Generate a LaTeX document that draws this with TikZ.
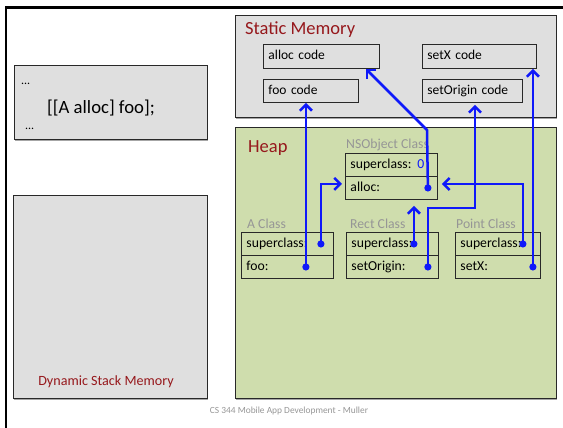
\documentclass[tikz,border=0pt]{standalone}
\usepackage{fontspec}
\setmainfont{Carlito}
\usetikzlibrary{arrows.meta,calc,shadows}
\definecolor{boxgray}{RGB}{223,223,223}
\definecolor{heapgreen}{RGB}{207,221,173}
\definecolor{titlered}{RGB}{150,24,28}
\definecolor{labelgray}{RGB}{150,150,150}
\definecolor{edgedark}{RGB}{40,40,40}
\definecolor{ptrblue}{RGB}{15,25,250}
\begin{document}
\begin{tikzpicture}[x=1pt,y=-1pt,
  region/.style={draw=edgedark, line width=1.2pt, anchor=north west, inner sep=0pt,
    drop shadow={shadow xshift=0.6pt,shadow yshift=-1.2pt,fill=black,opacity=0.35}},
  cell/.style={draw=edgedark, line width=0.9pt, fill=heapgreen, anchor=north west,
    minimum height=23pt, inner xsep=5pt, inner ysep=0pt, align=left,
    text height=9.5pt, text depth=3pt, font=\fontsize{13.7}{15}\selectfont},
  codebox/.style={draw=edgedark, line width=0.9pt, fill=boxgray, anchor=north west,
    minimum height=24pt, inner xsep=5pt, inner ysep=0pt, align=left,
    text height=9.5pt, text depth=3pt, font=\fontsize{13.5}{15}\selectfont},
  title/.style={anchor=west, inner sep=0pt, text=titlered, font=\fontsize{18.5}{21}\selectfont},
  clslabel/.style={anchor=west, inner sep=0pt, text=labelgray, font=\fontsize{13.7}{15}\selectfont},
  ptr/.style={draw=ptrblue, line width=2.5pt, -{Straight Barb[length=6pt,width=12pt]}},
  dot/.style={fill=ptrblue}
]
\useasboundingbox (0,0) rectangle (563,428);
% frame
\draw[line width=2.4pt, line cap=rect] (6,428) -- (6,7.5) -- (563,7.5);

% left side
\node[region, fill=boxgray, minimum width=193pt, minimum height=74pt] (stackcode) at (14,65) {};
\node[anchor=west, inner sep=0pt, font=\fontsize{12}{13}\selectfont] (dots1) at (21,84) {...};
\node[anchor=west, inner sep=0pt, font=\fontsize{18.7}{21}\selectfont] (call) at (47,108) {[[A alloc] foo];};
\node[anchor=west, inner sep=0pt, font=\fontsize{12}{13}\selectfont] (dots2) at (25,129) {...};

\node[region, fill=boxgray, minimum width=194pt, minimum height=203pt] (stack) at (13,195) {};
\node[anchor=center, inner sep=0pt, text=titlered, font=\fontsize{14.1}{16}\selectfont] (stacklabel) at (106,382) {Dynamic Stack Memory};

% static memory
\node[region, fill=boxgray, minimum width=321pt, minimum height=102pt] (static) at (235,15) {};
\node[title] (statictitle) at (245,30) {Static Memory};
\node[codebox, text width=106pt] (alloccode) at (263,44) {alloc code};
\node[codebox, text width=104pt] (setxcode) at (422,44) {setX code};
\node[codebox, text width=85pt, minimum height=23pt] (foocode) at (263,79) {foo code};
\node[codebox, text width=90pt, minimum height=23pt] (socode) at (422,79) {setOrigin code};

% heap
\node[region, fill=heapgreen, minimum width=321pt, minimum height=271pt] (heap) at (235,127) {};
\node[title] (heaptitle) at (248,148) {Heap};

\node[clslabel] (nslabel) at (346,145) {NSObject Class};
\node[cell, text width=82pt] (nssup) at (345,153) {superclass:\hspace{6pt}{\color{ptrblue}0}};
\node[cell, text width=82pt] (nsalloc) at (345,176) {alloc:};

\node[clslabel] (alabel) at (247,224) {A Class};
\node[cell, text width=82pt] (asup) at (241,232) {superclass:};
\node[cell, text width=82pt] (afoo) at (241,255) {foo:};

\node[clslabel] (rlabel) at (350,224) {Rect Class};
\node[cell, text width=82pt] (rsup) at (346,232) {superclass:};
\node[cell, text width=82pt] (rso) at (346,255) {setOrigin:};

\node[clslabel] (plabel) at (456,224) {Point Class};
\node[cell, text width=75pt] (psup) at (455,232) {superclass:};
\node[cell, text width=75pt] (psetx) at (455,255) {setX:};

% pointer start points
\coordinate (dAs) at ($(asup.east)+(-13,0)$);
\coordinate (dAf) at ($(afoo.east)+(-28,0)$);
\coordinate (dNa) at ($(nsalloc.east)+(-10,0)$);
\coordinate (dRs) at ($(rsup.east)+(-25,0)$);
\coordinate (dRo) at ($(rso.east)+(-11,0)$);
\coordinate (dPs) at ($(psup.east)+(-18,0)$);
\coordinate (dPx) at ($(psetx.east)+(-8,0)$);
\coordinate (allocbend) at (427,130);
\coordinate (allocend) at ($(alloccode.south east)+(-14,0)$);
\coordinate (sobend) at (475,208);
\coordinate (ain) at ($(nsalloc.west)+(0,-4)$);
\coordinate (pin) at ($(nsalloc.east)+(0,-4)$);

% connectors
\draw[ptr] (dAf) -- (dAf |- foocode.south);
\draw[ptr, shorten >=3pt] (dAs) |- (ain);
\draw[ptr] (dNa) -- (allocbend) -- (allocend);
\draw[ptr, shorten >=6pt] (dRs) -- (dRs |- nsalloc.south);
\draw[ptr, shorten >=2pt] (dRo) |- (sobend) -- (sobend |- socode.south);
\draw[ptr, shorten >=4pt] (dPs) |- (pin);
\draw[ptr] (dPx) -- (dPx |- setxcode.south);

\foreach \p in {dAs,dAf,dNa,dRs,dRo,dPs,dPx} \fill[dot] (\p) circle (3.6pt);

% footer
\node[inner sep=0pt, text=labelgray, font=\fontsize{9.4}{10}\selectfont] (footer) at (289,411) {CS 344 Mobile App Development - Muller};
\end{tikzpicture}
\end{document}
